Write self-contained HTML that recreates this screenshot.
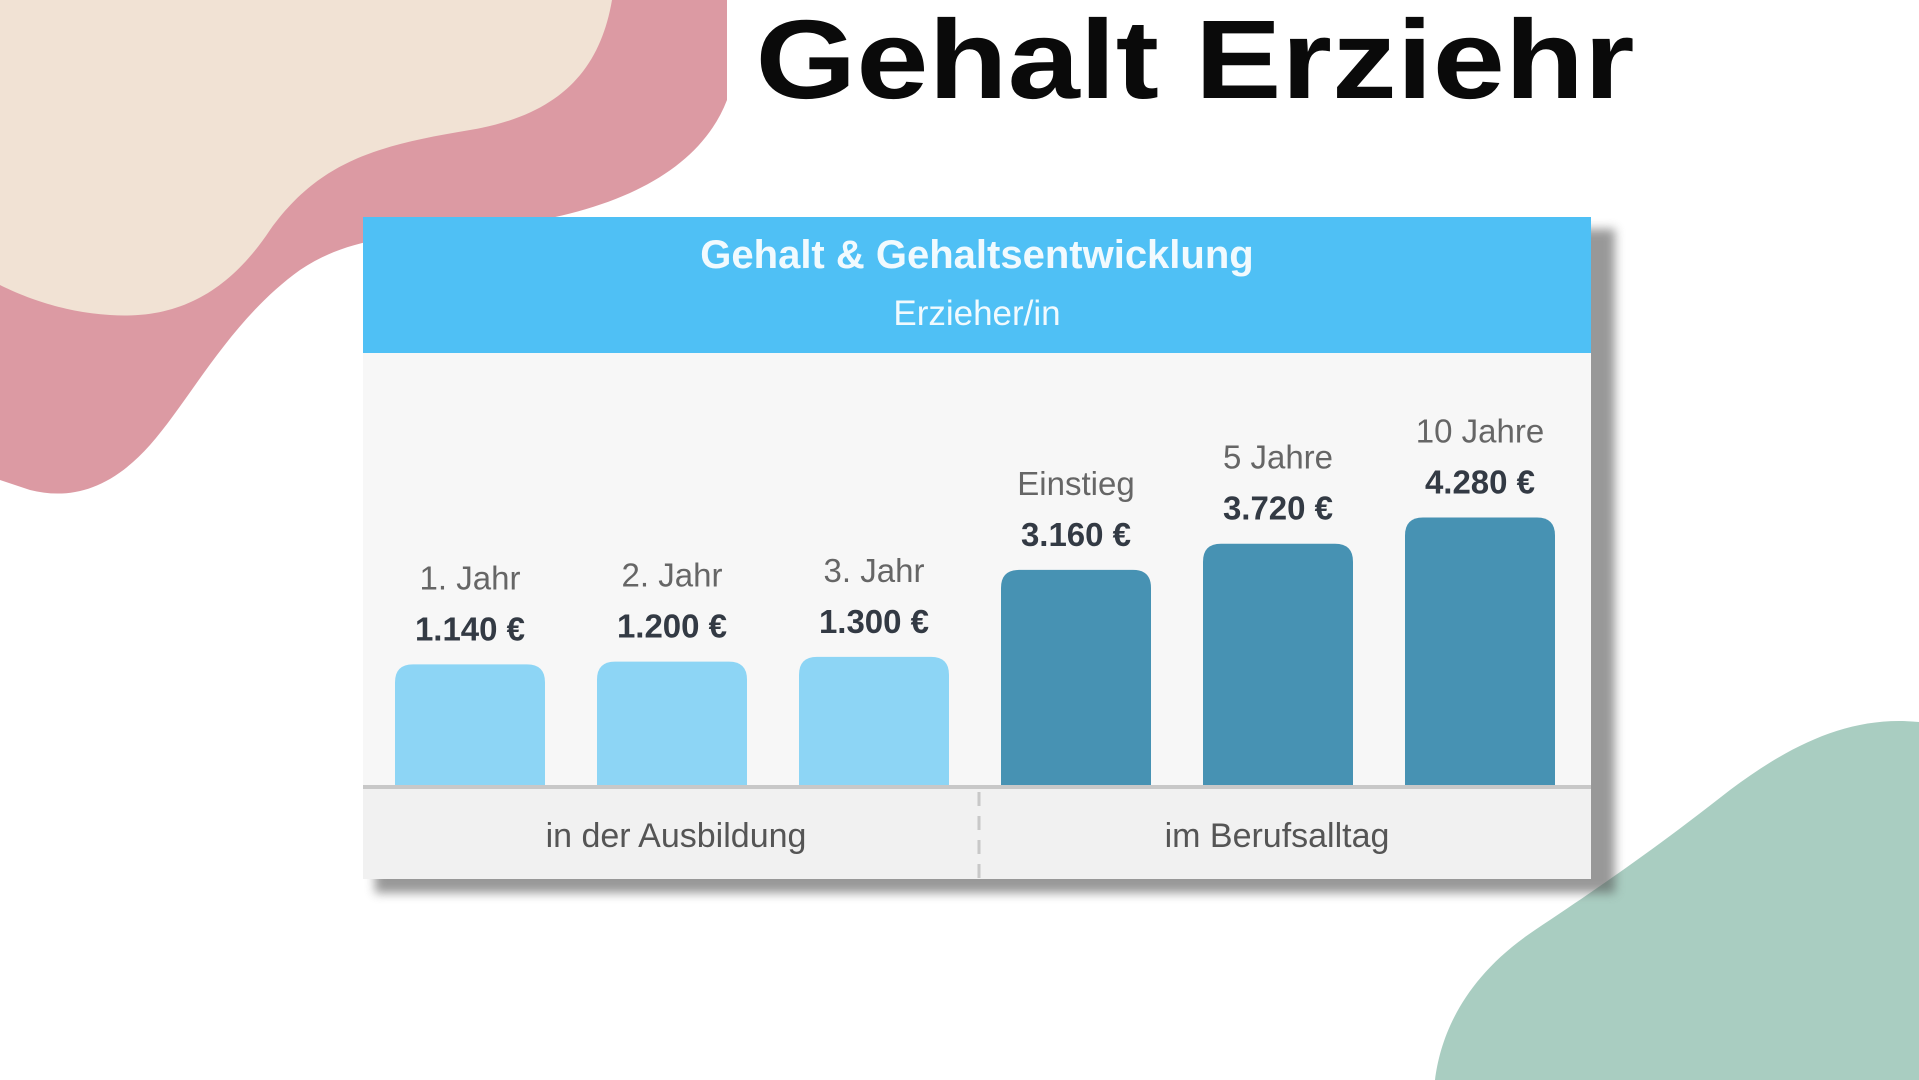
<!DOCTYPE html>
<html><head><meta charset="utf-8"><style>
html,body{margin:0;padding:0;width:1919px;height:1080px;overflow:hidden;background:#fff;font-family:"Liberation Sans",sans-serif}
svg{display:block}
</style></head><body>
<svg width="1919" height="1080" viewBox="0 0 1919 1080">
<defs><filter id="sh" x="-5%" y="-5%" width="115%" height="120%"><feGaussianBlur stdDeviation="5"/></filter></defs>
<path fill="#dc9aa3" d="M0,0 L727,0 L727,100 C700,170 620,210 510,225 C420,237 360,230 300,270 C230,320 190,400 150,445 C110,490 70,500 30,490 L0,480 Z"/>
<path fill="#f1e2d4" d="M0,0 L612,0 C600,70 560,115 470,130 C380,145 320,160 270,230 C230,290 180,320 110,315 C60,312 20,295 0,285 Z"/>
<path fill="#a9cdc1" d="M1919,722 C1850,715 1790,745 1730,790 C1660,845 1610,880 1535,930 C1460,980 1440,1040 1435,1080 L1919,1080 Z"/>
<text x="1195" y="98" text-anchor="middle" font-size="112" font-weight="bold" fill="#0a0a0a" textLength="879" lengthAdjust="spacingAndGlyphs">Gehalt  Erziehr</text>
<rect x="375" y="229" width="1240" height="664" fill="#555" opacity="0.6" filter="url(#sh)"/>
<rect x="363" y="217" width="1228" height="662" fill="#f7f7f7"/>
<rect x="363" y="217" width="1228" height="136" fill="#4fc0f5"/>
<text x="977" y="268" text-anchor="middle" font-size="40" font-weight="bold" fill="#fff" opacity="0.92">Gehalt &amp; Gehaltsentwicklung</text>
<text x="977" y="325" text-anchor="middle" font-size="35" fill="#fff" opacity="0.92">Erzieher/in</text>
<rect x="363" y="788" width="1228" height="91" fill="#f1f1f1"/>
<line x1="363" x2="1591" y1="787" y2="787" stroke="#c8c8c8" stroke-width="4"/>
<line x1="979" x2="979" y1="792" y2="879" stroke="#c8c8c8" stroke-width="3" stroke-dasharray="14,10"/>
<text x="676" y="847" text-anchor="middle" font-size="34" fill="#555">in der Ausbildung</text>
<text x="1277" y="847" text-anchor="middle" font-size="34" fill="#555">im Berufsalltag</text>
<g id="bars"></g>
</svg>
<script>
const categories=["1. Jahr","2. Jahr","3. Jahr","Einstieg","5 Jahre","10 Jahre"];
const values=[1140,1200,1300,3160,3720,4280];
const valueLabels=["1.140 €","1.200 €","1.300 €","3.160 €","3.720 €","4.280 €"];
const groups=["ausbildung","ausbildung","ausbildung","beruf","beruf","beruf"];
const NS="http://www.w3.org/2000/svg";
const base=785, x0=470, step=202, bw=150;
function xScale(i){return x0+i*step;}
function hScale(v){return (55+0.0382*v)*1.224;}
const g=document.getElementById('bars');
values.forEach((v,i)=>{
  const cx=xScale(i), h=hScale(v), top=base-h;
  const p=document.createElementNS(NS,'path');
  
  
  const r=18,l=cx-bw/2,rt=cx+bw/2;
  p.setAttribute('d',`M${l},${base} L${l},${top+r} Q${l},${top} ${l+r},${top} L${rt-r},${top} Q${rt},${top} ${rt},${top+r} L${rt},${base} Z`);
  p.setAttribute('fill',groups[i]==='ausbildung'?'#8dd5f5':'#4792b3');
  g.appendChild(p);
  const tv=document.createElementNS(NS,'text');
  
  
  tv.setAttribute('x',cx);tv.setAttribute('y',top-24);
  tv.setAttribute('text-anchor','middle');tv.setAttribute('font-size','33');tv.setAttribute('font-weight','bold');tv.setAttribute('fill','#333a44');
  tv.textContent=valueLabels[i];g.appendChild(tv);
  const tc=document.createElementNS(NS,'text');
  
  
  tc.setAttribute('x',cx);tc.setAttribute('y',top-75);
  tc.setAttribute('text-anchor','middle');tc.setAttribute('font-size','33');tc.setAttribute('fill','#666');
  tc.textContent=categories[i];g.appendChild(tc);
});
</script>
</body></html>
